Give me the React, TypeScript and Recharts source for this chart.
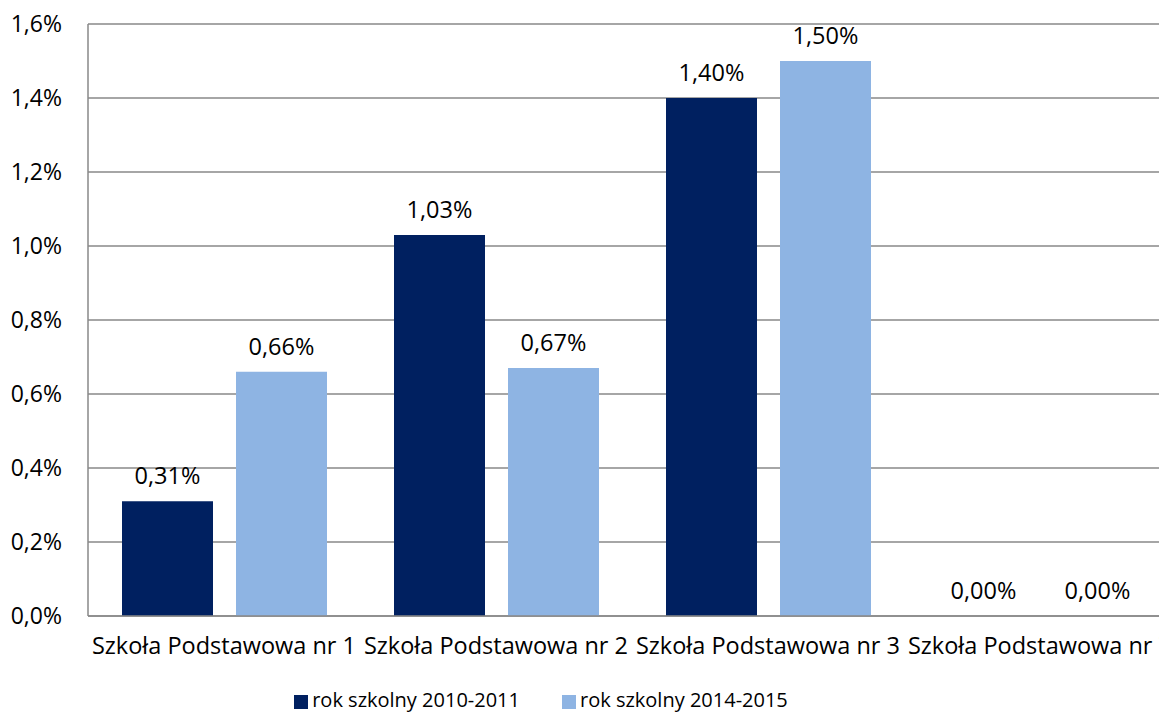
import { BarChart, Bar, XAxis, YAxis, CartesianGrid, Legend, LabelList } from "recharts";

const schools = [
  "Szkoła Podstawowa nr 1",
  "Szkoła Podstawowa nr 2",
  "Szkoła Podstawowa nr 3",
  "Szkoła Podstawowa nr 7",
];
const year2010 = [0.31, 1.03, 1.4, 0.0];
const year2014 = [0.66, 0.67, 1.5, 0.0];
const yTicks = [0, 0.2, 0.4, 0.6, 0.8, 1.0, 1.2, 1.4, 1.6];

const data = schools.map((name, i) => ({
  name,
  a: year2010[i],
  b: year2014[i],
}));

const font = "'Open Sans', sans-serif";
const axisPct = (v: number) => v.toFixed(1).replace(".", ",") + "%";
const labelPct = (v: any) => Number(v).toFixed(2).replace(".", ",") + "%";

// plain text tick so long names are not wrapped
const SchoolTick = (props: any) => {
  const { x, y, payload } = props;
  return (
    <text x={x} y={y + 36} textAnchor="middle" fill="#000" fontSize={23.5} fontFamily={font}>
      {payload.value}
    </text>
  );
};

export default function App() {
  return (
    <div
      style={{
        position: "absolute",
        left: 0,
        top: 0,
        width: 1159,
        height: 713,
        overflow: "hidden",
        background: "#fff",
        fontFamily: font,
      }}
    >
      <BarChart
        width={1200}
        height={713}
        data={data}
        margin={{ top: 24, right: 24, left: 28, bottom: 10 }}
        barGap={23}
        barCategoryGap={33}
      >
        <CartesianGrid vertical={false} stroke="#888" strokeWidth={1.5} />
        <XAxis
          dataKey="name"
          axisLine={{ stroke: "#888", strokeWidth: 1.5 }}
          tickLine={false}
          tickSize={0}
          height={60}
          interval={0}
          tick={<SchoolTick />}
        />
        <YAxis
          width={60}
          domain={[0, 1.6]}
          ticks={yTicks}
          tickFormatter={axisPct}
          axisLine={{ stroke: "#888", strokeWidth: 1.5 }}
          tickLine={false}
          tickSize={0}
          tickMargin={26}
          tick={{ fill: "#000", fontSize: 23, fontFamily: font }}
        />
        <Legend
          verticalAlign="bottom"
          iconType="square"
          iconSize={14}
          wrapperStyle={{ left: 0, width: 1124, bottom: 0, fontSize: 20, fontFamily: font }}
          formatter={(v: string) => <span style={{ color: "#000", marginRight: 32 }}>{v}</span>}
        />
        <Bar dataKey="a" name="rok szkolny 2010-2011" fill="#002060" barSize={91} minPointSize={0.1} isAnimationActive={false}>
          <LabelList dataKey="a" position="top" offset={17} formatter={labelPct} fill="#000" fontSize={23.5} fontFamily={font} />
        </Bar>
        <Bar dataKey="b" name="rok szkolny 2014-2015" fill="#8EB4E3" barSize={91} minPointSize={0.1} isAnimationActive={false}>
          <LabelList dataKey="b" position="top" offset={17} formatter={labelPct} fill="#000" fontSize={23.5} fontFamily={font} />
        </Bar>
      </BarChart>
    </div>
  );
}
